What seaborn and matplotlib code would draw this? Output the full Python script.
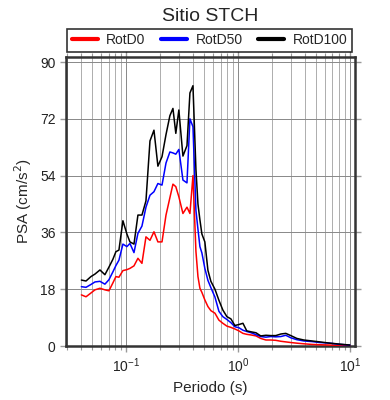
import numpy as np
import pandas as pd
import seaborn as sns
import matplotlib
matplotlib.use("Agg")
import matplotlib.pyplot as plt
from matplotlib.ticker import LogLocator, NullFormatter

# periodos (s) y PSA (cm/s^2)
periodo = [0.040, 0.044, 0.0487, 0.0529, 0.0586, 0.0649, 0.0705, 0.0765, 0.0814, 0.0866,
           0.094, 0.102, 0.1086, 0.118, 0.128, 0.139, 0.151, 0.164, 0.178, 0.193,
           0.210, 0.228, 0.247, 0.263, 0.279, 0.297, 0.323, 0.351, 0.373, 0.397,
           0.422, 0.440, 0.458, 0.477, 0.507, 0.540, 0.574, 0.624, 0.677, 0.734,
           0.798, 0.866, 0.940, 1.02, 1.11, 1.20, 1.31, 1.45, 1.60, 1.78,
           1.97, 2.18, 2.42, 2.68, 2.97, 3.36, 3.88, 4.58, 5.40, 6.63,
           8.14, 10.0]

rotd0 = [16.2, 15.6, 16.8, 17.8, 18.3, 17.8, 17.5, 20.0, 22.0, 21.8,
         23.9, 24.2, 24.6, 25.4, 27.8, 26.2, 34.6, 33.5, 36.2, 33.0,
         33.0, 41.5, 47.0, 51.3, 50.5, 47.3, 42.0, 44.0, 42.0, 54.0,
         30.0, 22.0, 18.3, 17.0, 14.6, 12.5, 11.2, 10.4, 8.2, 7.2,
         6.3, 5.9, 5.4, 4.8, 4.0, 3.7, 3.5, 3.2, 2.4, 1.9,
         1.9, 1.8, 1.5, 1.3, 1.1, 0.9, 0.7, 0.5, 0.4, 0.3,
         0.2, 0.15]

rotd50 = [18.8, 18.6, 19.5, 20.3, 20.5, 19.6, 21.0, 23.5, 25.5, 27.2,
          32.3, 31.5, 32.5, 29.6, 35.7, 38.0, 44.0, 47.8, 48.9, 51.5,
          51.0, 58.0, 61.5, 61.2, 60.8, 62.3, 52.6, 51.7, 72.0, 69.5,
          43.0, 37.0, 31.5, 29.5, 24.6, 20.8, 18.5, 15.5, 11.0, 9.3,
          8.4, 7.4, 6.1, 5.8, 5.0, 4.6, 4.2, 3.6, 3.0, 2.8,
          3.0, 2.9, 3.0, 3.4, 2.6, 2.0, 1.6, 1.4, 1.1, 0.9,
          0.5, 0.3]

rotd100 = [20.9, 20.6, 22.0, 22.8, 24.1, 22.6, 25.0, 27.5, 29.9, 30.4,
           39.7, 35.5, 33.0, 32.3, 41.5, 41.5, 46.0, 65.0, 68.4, 57.0,
           60.0, 67.0, 73.0, 75.3, 67.4, 74.8, 60.2, 63.5, 80.2, 82.5,
           56.0, 45.0, 40.0, 35.5, 33.0, 24.0, 20.5, 18.0, 14.5, 11.4,
           9.3, 8.6, 6.5, 6.8, 7.2, 4.8, 4.5, 4.2, 3.2, 3.4,
           3.3, 3.3, 3.8, 4.0, 3.3, 2.4, 1.9, 1.6, 1.3, 0.9,
           0.6, 0.3]

series = ["RotD0", "RotD50", "RotD100"]
colores = ["#ff0000", "#0000ff", "#000000"]
yticks = [0, 18, 36, 54, 72, 90]

df = pd.DataFrame({
    "Periodo": periodo * 3,
    "PSA": rotd0 + rotd50 + rotd100,
    "comp": [s for s in series for _ in periodo],
})

sns.set_style("ticks")
plt.rcParams["font.family"] = ["Liberation Sans", "DejaVu Sans"]

fig = plt.figure(figsize=(3.9, 4.0), dpi=100)
ax = fig.add_axes([0.169, 0.135, 0.741, 0.7225])

sns.lineplot(data=df, x="Periodo", y="PSA", hue="comp", palette=colores,
             linewidth=1.1, ax=ax, legend=False, zorder=3)

ax.set_xscale("log")
ax.set_xlim(0.0291, 11.1)
ax.set_ylim(0, 91.6)
ax.set_yticks(yticks)
ax.xaxis.set_minor_locator(LogLocator(base=10, subs=np.arange(2, 10), numticks=20))
ax.xaxis.set_minor_formatter(NullFormatter())

ax.grid(True, which="major", color="#888888", linewidth=0.7)
ax.grid(True, which="minor", axis="x", color="#a0a0a0", linewidth=0.6)

for s in ax.spines.values():
    s.set_linewidth(1.8)
    s.set_color("#333333")

ax.tick_params(which="both", direction="out", color="#999999", top=True, right=True,
               labelsize=10, labelcolor="#222222")
ax.tick_params(which="major", length=4, width=1)
ax.tick_params(which="minor", length=3, width=0.8)

ax.set_xlabel("Periodo (s)", fontsize=11)
ax.set_ylabel("PSA (cm/s$^2$)", fontsize=11)
ax.set_title("Sitio STCH", fontsize=14, pad=26)

handles = [plt.Line2D([], [], color=c, linewidth=3) for c in colores]
leg = ax.legend(handles, series, loc="lower center", bbox_to_anchor=(0.497, 0.995),
                ncol=3, frameon=True, fancybox=False, fontsize=10,
                handlelength=1.9, columnspacing=1.1, borderpad=0.3, handletextpad=0.6)
leg.get_frame().set_edgecolor("black")
leg.get_frame().set_linewidth(1.2)

fig.savefig("out.png", dpi=100)
